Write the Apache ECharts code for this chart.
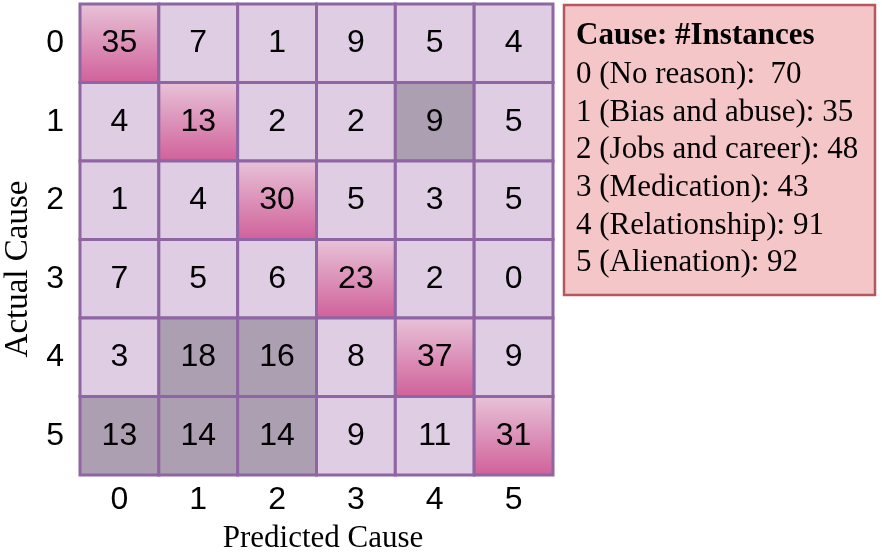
<!DOCTYPE html>
<html>
<head>
<meta charset="utf-8">
<script src="https://cdn.jsdelivr.net/npm/echarts@6/dist/echarts.min.js"></script>
<style>
html,body{margin:0;padding:0;background:#fff;}
#chart{width:882px;height:554px;}
</style>
</head>
<body>
<div id="chart"></div>
<script>
// ---- data ----
var predictedLabels = ['0', '1', '2', '3', '4', '5'];
var actualLabels = ['0', '1', '2', '3', '4', '5'];
var row0 = [35, 7, 1, 9, 5, 4];
var row1 = [4, 13, 2, 2, 9, 5];
var row2 = [1, 4, 30, 5, 3, 5];
var row3 = [7, 5, 6, 23, 2, 0];
var row4 = [3, 18, 16, 8, 37, 9];
var row5 = [13, 14, 14, 9, 11, 31];
var matrixRows = [row0, row1, row2, row3, row4, row5];
// highlighted (grey) confusion cells: [actual, predicted]
var highlighted = [[1, 4], [4, 1], [4, 2], [5, 0], [5, 1], [5, 2]];
var legendTitle = 'Cause: #Instances';
var causeNames = ['No reason', 'Bias and abuse', 'Jobs and career', 'Medication', 'Relationship', 'Alienation'];
var causeCounts = [70, 35, 48, 43, 91, 92];
var xAxisTitle = 'Predicted Cause';
var yAxisTitle = 'Actual Cause';

// ---- build ----
var cells = [];
matrixRows.forEach(function (row, r) {
  row.forEach(function (v, c) { cells.push([c, r, v]); });
});
function isHighlighted(r, c) {
  return highlighted.some(function (h) { return h[0] === r && h[1] === c; });
}

var chart = echarts.init(document.getElementById('chart'), null, {renderer: 'canvas'});

var legendChildren = [{
  type: 'rect',
  shape: {x: 0, y: 0, width: 311, height: 290},
  style: {fill: '#f5c6c8', stroke: '#b5585c', lineWidth: 2.5}
}, {
  type: 'text',
  x: 12, y: 31,
  style: {text: legendTitle, font: 'bold 31px "Liberation Serif", serif', fill: '#000', textVerticalAlign: 'middle'}
}];
causeNames.forEach(function (n, i) {
  var sep = i === 0 ? ':  ' : ': ';
  legendChildren.push({
    type: 'text',
    x: 12, y: 70 + i * 37.6,
    style: {text: i + ' (' + n + ')' + sep + causeCounts[i], font: '31px "Liberation Serif", serif', fill: '#000', textVerticalAlign: 'middle'}
  });
});

var option = {
  animation: false,
  backgroundColor: '#ffffff',
  grid: {left: 80, top: 4, width: 473, height: 471},
  xAxis: {
    type: 'category',
    data: predictedLabels,
    axisLine: {show: false},
    axisTick: {show: false},
    splitLine: {show: false},
    axisLabel: {fontSize: 32, color: '#000', fontFamily: '"Liberation Sans", Arial, sans-serif', margin: 9}
  },
  yAxis: {
    type: 'category',
    data: actualLabels,
    inverse: true,
    axisLine: {show: false},
    axisTick: {show: false},
    splitLine: {show: false},
    axisLabel: {fontSize: 32, color: '#000', fontFamily: '"Liberation Sans", Arial, sans-serif', margin: 16}
  },
  series: [{
    type: 'custom',
    data: cells,
    encode: {x: 0, y: 1},
    renderItem: function (params, api) {
      var c = api.value(0), r = api.value(1), v = api.value(2);
      var center = api.coord([c, r]);
      var size = api.size([1, 1]);
      var fill;
      if (r === c) {
        fill = new echarts.graphic.LinearGradient(0, 0, 0, 1, [
          {offset: 0, color: '#e8c4d9'},
          {offset: 1, color: '#d05f99'}
        ]);
      } else if (isHighlighted(r, c)) {
        fill = '#ad9fb2';
      } else {
        fill = '#dfcde4';
      }
      return {
        type: 'group',
        children: [{
          type: 'rect',
          shape: {x: center[0] - size[0] / 2, y: center[1] - size[1] / 2, width: size[0], height: size[1]},
          style: {fill: fill, stroke: '#9065a3', lineWidth: 3}
        }, {
          type: 'text',
          x: center[0], y: center[1],
          style: {text: String(v), font: '32px "Liberation Sans", Arial, sans-serif', fill: '#000', textAlign: 'center', textVerticalAlign: 'middle'}
        }]
      };
    }
  }],
  graphic: [{
    type: 'text',
    x: 323, y: 539,
    style: {text: xAxisTitle, font: '31px "Liberation Serif", serif', fill: '#000', textAlign: 'center', textVerticalAlign: 'middle'}
  }, {
    type: 'text',
    x: 18, y: 269,
    rotation: Math.PI / 2,
    style: {text: yAxisTitle, font: '33px "Liberation Serif", serif', fill: '#000', textAlign: 'center', textVerticalAlign: 'middle'}
  }, {
    type: 'group',
    x: 564, y: 5,
    children: legendChildren
  }]
};
chart.setOption(option);
</script>
</body>
</html>
